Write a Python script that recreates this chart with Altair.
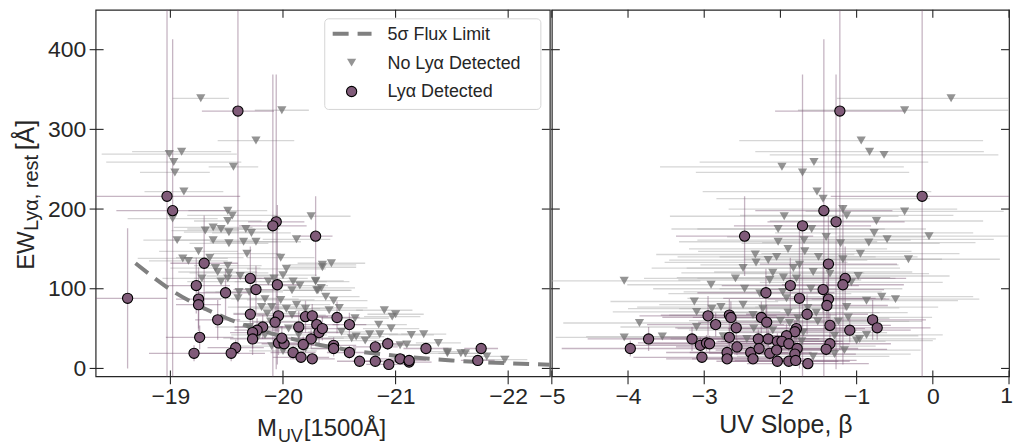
import altair as alt
import pandas as pd

# ---------------- data ----------------
# Left panel: Lya detected (M_UV, EW, M_UV error, EW error)
det_muv = [-19.60, -18.97, -19.02, -19.94, -19.91, -20.29, -19.30, -19.71, -19.23, -19.95,
           -19.76, -19.49, -18.62, -19.25, -19.25, -19.42, -19.71, -19.96, -19.93, -19.82,
           -19.77, -19.73, -19.73, -19.26, -19.58, -19.54, -19.21, -19.96, -20.01, -19.99,
           -20.09, -20.16, -20.26, -20.14, -20.20, -20.26, -20.30, -20.32, -20.25, -20.18,
           -20.35, -20.48, -20.59, -20.45, -20.45, -20.59, -20.68, -20.82, -20.82, -20.93,
           -20.94, -21.04, -21.12, -21.12, -21.27, -21.76, -21.73]
det_ew = [323, 216, 198, 184, 179, 166, 132, 113, 104, 105,
          99, 95, 88, 87, 80, 61, 68, 66, 58, 52,
          48, 45, 37, 39, 26, 19, 19, 32, 31, 38,
          20, 14, 12, 52, 65, 66, 55, 45, 37, 30,
          50, 64, 55, 29, 25, 20, 9, 27, 9, 31,
          5, 12, 8, 10, 25, 25, 10]
det_muv_err = [0.32, 0.65, 0.5, 0.25, 0.3, 0.15, 0.3, 0.2, 0.3, 0.2,
               0.2, 0.25, 0.35, 0.2, 0.2, 0.2, 0.15, 0.2, 0.2, 0.25,
               0.2, 0.2, 0.2, 0.3, 0.25, 0.3, 0.4, 0.2, 0.2, 0.25,
               0.2, 0.25, 0.2, 0.2, 0.2, 0.2, 0.2, 0.2, 0.2, 0.2,
               0.2, 0.2, 0.15, 0.2, 0.2, 0.2, 0.2, 0.2, 0.2, 0.15,
               0.2, 0.2, 0.2, 0.15, 0.2, 0.15, 0.15]
det_ew_err = [300, 250, 215, 185, 190, 50, 60, 40, 35, 100,
              30, 30, 88, 40, 30, 25, 25, 20, 20, 15,
              15, 20, 20, 15, 10, 10, 10, 15, 10, 15,
              8, 6, 6, 20, 20, 15, 15, 15, 12, 10,
              15, 20, 15, 10, 10, 8, 5, 8, 5, 8,
              4, 5, 4, 4, 6, 6, 4]

# Left panel: no Lya detected (M_UV, EW upper limit, M_UV error)
nd_muv = [-19.27, -19.99, -19.76, -18.99, -19.10, -19.03, -19.56, -19.04, -19.12, -19.02,
          -19.51, -19.55, -19.51, -20.25, -19.31, -19.38, -19.45, -19.52, -19.67, -19.72,
          -19.06, -19.38, -19.52, -19.65, -19.76, -20.12, -19.25, -19.68, -19.11, -19.16,
          -19.35, -19.40, -19.42, -19.51, -19.52, -19.62, -19.98, -20.03, -20.35, -19.28,
          -19.45, -19.51, -19.61, -19.70, -19.60, -19.84, -19.87, -19.92, -20.00, -20.09,
          -20.15, -20.08, -20.29, -20.31, -19.81, -19.90, -19.86, -19.98, -20.03, -20.12,
          -20.20, -20.08, -19.89, -19.70, -19.84, -20.05, -20.14, -20.29, -19.77, -20.35,
          -20.43, -20.29, -20.34, -20.30, -20.38, -20.45, -20.50, -20.41, -20.90, -20.97,
          -21.00, -20.64, -20.85, -20.96, -20.52, -20.61, -20.65, -20.73, -20.77, -20.86,
          -21.04, -21.10, -21.14, -21.25, -21.38, -21.46, -21.46, -21.58, -21.62, -21.81,
          -21.97, -19.90, -20.00, -20.20]
nd_ew = [339, 324, 286, 269, 272, 259, 253, 246, 222, 188,
         198, 192, 185, 191, 173, 177, 175, 171, 175, 170,
         161, 161, 157, 159, 159, 162, 147, 144, 138, 135,
         139, 126, 121, 129, 120, 116, 139, 125, 130, 113,
         109, 113, 96, 96, 88, 87, 109, 113, 117, 109,
         104, 98, 109, 98, 77, 77, 69, 86, 75, 80,
         75, 67, 59, 52, 42, 50, 42, 38, 38, 127,
         132, 110, 101, 98, 90, 85, 76, 73, 73, 65,
         68, 63, 55, 50, 46, 38, 40, 35, 43, 43,
         29, 30, 42, 43, 32, 21, 19, 19, 19, 15,
         11, 28, 22, 25]
nd_muv_err = [0.25, 0.24, 0.34, 0.6, 0.44, 0.6, 0.22, 0.31, 0.35, 0.4,
              0.35, 0.4, 0.3, 0.35, 0.3, 0.35, 0.3, 0.4, 0.3, 0.35,
              0.3, 0.4, 0.35, 0.3, 0.4, 0.3, 0.35, 0.3, 0.4, 0.35,
              0.3, 0.4, 0.35, 0.3, 0.35, 0.3, 0.3, 0.35, 0.3, 0.35,
              0.3, 0.3, 0.3, 0.3, 0.35, 0.3, 0.3, 0.3, 0.3, 0.3,
              0.25, 0.3, 0.3, 0.3, 0.3, 0.3, 0.3, 0.3, 0.3, 0.3,
              0.25, 0.3, 0.3, 0.3, 0.3, 0.3, 0.25, 0.25, 0.3, 0.3,
              0.3, 0.25, 0.3, 0.3, 0.3, 0.3, 0.25, 0.3, 0.25, 0.25,
              0.25, 0.3, 0.25, 0.25, 0.3, 0.25, 0.25, 0.25, 0.25, 0.25,
              0.25, 0.2, 0.2, 0.2, 0.2, 0.2, 0.2, 0.2, 0.2, 0.2,
              0.2, 0.3, 0.3, 0.25]

# 5-sigma flux limit curve
flux_muv = [-18.69, -19.0, -19.5, -20.0, -20.5, -21.0, -21.5, -22.0, -22.4]
flux_ew = [132, 99, 63, 40, 25, 16, 10, 6.5, 4.5]

# Right panel: Lya detected (beta, EW, beta error, EW error)
detb_beta = [-1.22, -0.14, -1.43, -1.27, -1.71, -2.47, -1.37, -1.15, -1.18, -1.87,
             -1.44, -2.19, -1.75, -1.37, -1.39, -1.65, -2.95, -2.67, -2.65, -2.25,
             -2.18, -2.85, -2.58, -1.35, -1.09, -0.79, -0.73, -1.79, -1.81, -1.92,
             -3.73, -3.97, -3.16, -3.05, -2.97, -2.93, -3.03, -2.67, -2.57, -2.70,
             -2.70, -2.29, -2.16, -2.39, -2.28, -2.36, -2.14, -2.04, -2.05, -2.04,
             -1.98, -1.89, -1.78, -1.81, -1.89, -1.80, -1.64, -1.35, -1.40]
detb_ew = [323, 216, 198, 184, 179, 166, 131, 113, 105, 104,
           99, 95, 88, 87, 79, 68, 66, 67, 64, 64,
           58, 55, 51, 54, 48, 61, 51, 50, 46, 41,
           37, 25, 37, 29, 32, 31, 14, 39, 27, 20,
           12, 37, 37, 20, 25, 12, 19, 34, 23, 9,
           34, 31, 25, 18, 9, 10, 6, 31, 24]
detb_beta_err = [0.85, 1.2, 0.9, 0.9, 0.9, 0.9, 0.9, 0.8, 0.8, 0.9,
                 0.8, 0.9, 1.0, 0.8, 0.8, 0.8, 0.9, 0.9, 0.9, 0.9,
                 0.9, 0.9, 0.8, 0.8, 0.8, 0.7, 0.7, 0.9, 0.8, 0.8,
                 0.8, 0.9, 0.9, 0.9, 0.9, 0.8, 0.9, 0.9, 0.8, 0.8,
                 0.8, 0.8, 0.8, 0.8, 0.8, 0.8, 0.8, 0.8, 0.8, 0.8,
                 0.8, 0.8, 0.8, 0.8, 0.8, 0.8, 0.8, 0.8, 0.8]
detb_ew_err = [300, 250, 215, 185, 190, 50, 60, 40, 100, 35,
               30, 30, 88, 40, 30, 25, 25, 20, 20, 20,
               20, 15, 15, 15, 15, 25, 15, 15, 15, 15,
               15, 10, 15, 10, 10, 10, 6, 12, 10, 8,
               5, 12, 12, 8, 8, 5, 8, 10, 8, 5,
               10, 10, 8, 6, 5, 4, 4, 10, 8]

# Right panel: no Lya detected (beta, EW upper limit, beta error)
ndb_beta = [0.24, -0.37, -0.94, -0.83, -0.64, -1.56, -1.98, -1.71, -1.52, -1.44,
            -1.18, -1.13, -0.37, -1.95, -0.74, -0.77, -0.60, -0.05, -0.84, -1.21,
            -1.59, -1.69, -1.68, -0.95, -0.32, -1.18, -1.83, -1.57, -1.35, -0.98,
            -1.96, -1.79, -1.07, -0.67, -0.49, -0.87, -1.97, -1.92, -1.64, -1.13,
            -1.53, -1.24, -1.11, -1.51, -1.77, -1.88, -1.29, -0.96, -0.87, -1.00,
            -1.16, -1.29, -1.57, -1.72, -4.05, -3.85, -4.05, -3.55, -2.91, -3.13,
            -3.10, -3.10, -2.90, -2.78, -2.59, -2.47, -2.49, -2.33, -2.32, -2.49,
            -2.36, -2.75, -2.44, -2.35, -2.16, -2.14, -2.03, -2.03, -2.23, -2.27,
            -1.90, -2.00, -1.70, -1.85, -2.10, -1.60, -1.75, -2.05, -1.90, -1.50,
            -1.40, -2.10]
ndb_ew = [339, 324, 286, 272, 268, 259, 253, 246, 222, 213,
          200, 192, 197, 191, 185, 170, 162, 166, 158, 157,
          175, 161, 147, 144, 137, 137, 126, 121, 119, 116,
          114, 113, 108, 90, 87, 85, 96, 88, 76, 77,
          70, 59, 64, 59, 63, 57, 41, 37, 42, 35,
          23, 18, 15, 34, 110, 57, 39, 40, 105, 84,
          71, 52, 75, 77, 113, 100, 126, 143, 133, 80,
          67, 40, 37, 50, 136, 111, 175, 159, 75, 94,
          70, 60, 45, 28, 48, 100, 130, 140, 150, 140,
          165, 120]
ndb_beta_err = [1.5, 1.4, 1.6, 1.5, 1.5, 1.5, 1.6, 1.4, 1.5, 1.4,
                1.5, 1.4, 1.3, 1.5, 1.4, 1.3, 1.4, 1.2, 1.4, 1.3,
                1.5, 1.4, 1.4, 1.3, 1.2, 1.3, 1.4, 1.3, 1.3, 1.2,
                1.4, 1.3, 1.2, 1.2, 1.1, 1.2, 1.3, 1.3, 1.2, 1.2,
                1.2, 1.1, 1.1, 1.2, 1.2, 1.2, 1.1, 1.0, 1.0, 1.0,
                1.0, 1.0, 1.0, 1.1, 1.0, 1.0, 0.9, 1.0, 1.1, 1.1,
                1.1, 1.0, 1.1, 1.1, 1.2, 1.2, 1.2, 1.3, 1.2, 1.1,
                1.1, 1.0, 1.0, 1.0, 1.3, 1.2, 1.4, 1.3, 1.1, 1.2,
                1.2, 1.2, 1.1, 1.1, 1.1, 1.2, 1.3, 1.3, 1.3, 1.3,
                1.3, 1.2]

# Axis ticks
y_ticks = [0, 100, 200, 300, 400]
xl_ticks = [-19, -20, -21, -22]
xr_ticks = [-5, -4, -3, -2, -1, 0, 1]

# ---------------- styling ----------------
FONT = "Liberation Sans"
AX = "#262626"
PURPLE = "#805b79"
TRI = "#707070"
H = 368
W1 = 456
W2 = 459

y_scale = alt.Scale(domain=[-10, 450], nice=False, zero=False)
xl_scale = alt.Scale(domain=[-22.37, -18.336], reverse=True, nice=False, zero=False)
xr_scale = alt.Scale(domain=[-5, 1], nice=False, zero=False)

y_axis_l = alt.Axis(values=y_ticks, ticks=False, domain=False, grid=False, labelFont=FONT,
                    labelFontSize=23, labelColor=AX, labelPadding=10, title=None, format="d")
xl_axis = alt.Axis(values=xl_ticks, ticks=False, domain=False, grid=False, labelFont=FONT,
                   labelFontSize=23, labelColor=AX, labelPadding=9, labelFlush=False,
                   labelOverlap=False, title=None, format="d")
# the last label ("1") sits on the right edge; it is drawn as a right-aligned text so it stays in the page
xr_axis = alt.Axis(values=xr_ticks, ticks=False, domain=False, grid=False, labelFont=FONT,
                   labelFontSize=23, labelColor=AX, labelPadding=9, labelFlush=False,
                   labelOverlap=False, title=None, format="d",
                   labelExpr="datum.value == 1 ? '' : datum.label")

nd_l = pd.DataFrame({"x": nd_muv, "ew": nd_ew, "e": nd_muv_err})
nd_l["lo"] = nd_l.x - nd_l.e
nd_l["hi"] = nd_l.x + nd_l.e
det_l = pd.DataFrame({"x": det_muv, "ew": det_ew, "e": det_muv_err, "ey": det_ew_err})
det_l["lo"] = det_l.x - det_l.e
det_l["hi"] = det_l.x + det_l.e
det_l["ylo"] = det_l.ew - det_l.ey
det_l["yhi"] = det_l.ew + det_l.ey

nd_r = pd.DataFrame({"x": ndb_beta, "ew": ndb_ew, "e": ndb_beta_err})
nd_r["lo"] = nd_r.x - nd_r.e
nd_r["hi"] = nd_r.x + nd_r.e
det_r = pd.DataFrame({"x": detb_beta, "ew": detb_ew, "e": detb_beta_err, "ey": detb_ew_err})
det_r["lo"] = det_r.x - det_r.e
det_r["hi"] = det_r.x + det_r.e
det_r["ylo"] = det_r.ew - det_r.ey
det_r["yhi"] = det_r.ew + det_r.ey

flux = pd.DataFrame({"x": flux_muv, "ew": flux_ew})
yt = pd.DataFrame({"v": y_ticks})
one = pd.DataFrame({"a": [0]})


def panel_layers(nd, det, xs, xa, yaxis):
    X = lambda f: alt.X(f, scale=xs, axis=xa)
    Y = lambda f: alt.Y(f, scale=y_scale, axis=yaxis)
    layers = []
    layers.append(alt.Chart(nd).mark_rule(color="#b5b5b5", opacity=0.55, strokeWidth=1.3, clip=True)
                  .encode(x=X("lo:Q"), x2="hi:Q", y=Y("ew:Q")))
    layers.append(alt.Chart(det).mark_rule(color=PURPLE, opacity=0.45, strokeWidth=1.3, clip=True)
                  .encode(x=X("lo:Q"), x2="hi:Q", y=Y("ew:Q")))
    layers.append(alt.Chart(det).mark_rule(color=PURPLE, opacity=0.45, strokeWidth=1.3, clip=True)
                  .encode(x=X("x:Q"), y=Y("ylo:Q"), y2="yhi:Q"))
    return layers, X, Y


def tick_layers(X, Y, xticks, W, left_out):
    xt = pd.DataFrame({"v": xticks})
    t = []
    t.append(alt.Chart(yt).mark_rule(color=AX, strokeWidth=1.1)
             .encode(y=Y("v:Q"), x=alt.value(-left_out), x2=alt.value(8)))
    t.append(alt.Chart(yt).mark_rule(color=AX, strokeWidth=1.1)
             .encode(y=Y("v:Q"), x=alt.value(W - 8), x2=alt.value(W)))
    t.append(alt.Chart(xt).mark_rule(color=AX, strokeWidth=1.1)
             .encode(x=X("v:Q"), y=alt.value(0), y2=alt.value(8)))
    t.append(alt.Chart(xt).mark_rule(color=AX, strokeWidth=1.1)
             .encode(x=X("v:Q"), y=alt.value(H - 6), y2=alt.value(H + 8)))
    return t


def txt(s, x, y, size, align="left", angle=0, baseline="alphabetic"):
    m = alt.Chart(one).mark_text(text=s, font=FONT, fontSize=size, color=AX, align=align,
                                 baseline=baseline, angle=angle)
    return m.encode(x=alt.value(x), y=alt.value(y))


# ---------------- left panel ----------------
L, XL, YL = panel_layers(nd_l, det_l, xl_scale, xl_axis, y_axis_l)
L.append(alt.Chart(flux).mark_line(color="#808080", strokeWidth=4, strokeDash=[16, 9],
                                   interpolate="monotone", clip=True)
         .encode(x=XL("x:Q"), y=YL("ew:Q")))
L.append(alt.Chart(nd_l).mark_point(shape="triangle-down", filled=True, size=85, color=TRI,
                                    opacity=0.75, clip=True)
         .encode(x=XL("x:Q"), y=YL("ew:Q")))
L.append(alt.Chart(det_l).mark_circle(size=105, color=PURPLE, opacity=1, stroke="black",
                                      strokeWidth=1.1, clip=True)
         .encode(x=XL("x:Q"), y=YL("ew:Q")))
L += tick_layers(XL, YL, xl_ticks, W1, 6)

# legend
L.append(alt.Chart(one).mark_rect(fill="white", stroke="#d0d0d0", strokeWidth=1, cornerRadius=4,
                                  opacity=0.85)
         .encode(x=alt.value(230), x2=alt.value(447), y=alt.value(9), y2=alt.value(100)))
L.append(alt.Chart(one).mark_rule(color="#808080", strokeWidth=4, strokeDash=[16, 9])
         .encode(x=alt.value(238), x2=alt.value(277), y=alt.value(24)))
L.append(alt.Chart(one).mark_point(shape="triangle-down", filled=True, size=85, color=TRI, opacity=0.75)
         .encode(x=alt.value(257), y=alt.value(53)))
L.append(alt.Chart(one).mark_circle(size=105, color=PURPLE, opacity=1, stroke="black", strokeWidth=1.1)
         .encode(x=alt.value(257), y=alt.value(82)))
L.append(txt("5σ Flux Limit", 293, 30, 18))
L.append(txt("No Lyα Detected", 293, 59, 18))
L.append(txt("Lyα Detected", 293, 87, 18))

# axis titles (with subscripts)
L.append(txt("EW", -62, 261, 24, angle=270))
L.append(txt("Lyα, rest", -58, 222, 20, angle=270))
L.append(txt("[Å]", -62, 141, 25, angle=270))
L.append(txt("M", 162, 428, 24))
L.append(txt("UV", 183, 434, 18))
L.append(txt("[1500Å]", 209, 428, 24))

left = alt.layer(*L).properties(width=W1, height=H)

# ---------------- right panel ----------------
R, XR, YR = panel_layers(nd_r, det_r, xr_scale, xr_axis, None)
R.append(alt.Chart(nd_r).mark_point(shape="triangle-down", filled=True, size=85, color=TRI,
                                    opacity=0.75, clip=True)
         .encode(x=XR("x:Q"), y=YR("ew:Q")))
R.append(alt.Chart(det_r).mark_circle(size=105, color=PURPLE, opacity=1, stroke="black",
                                      strokeWidth=1.1, clip=True)
         .encode(x=XR("x:Q"), y=YR("ew:Q")))
R += tick_layers(XR, YR, xr_ticks, W2, 1)
R.append(txt("1", W2 + 4, H + 27, 23, align="right"))
R.append(txt("UV Slope, β", 235, 425, 25, align="center"))

right = alt.layer(*R).properties(width=W2, height=H)

chart = alt.hconcat(left, right, spacing=2, bounds="flush").properties(
    padding={"left": 13, "top": 7, "right": 0, "bottom": 0},
    background="white",
).configure_view(stroke=AX, strokeWidth=1.2)

chart.save("out.html", embed_options={"renderer": "svg", "actions": False})
